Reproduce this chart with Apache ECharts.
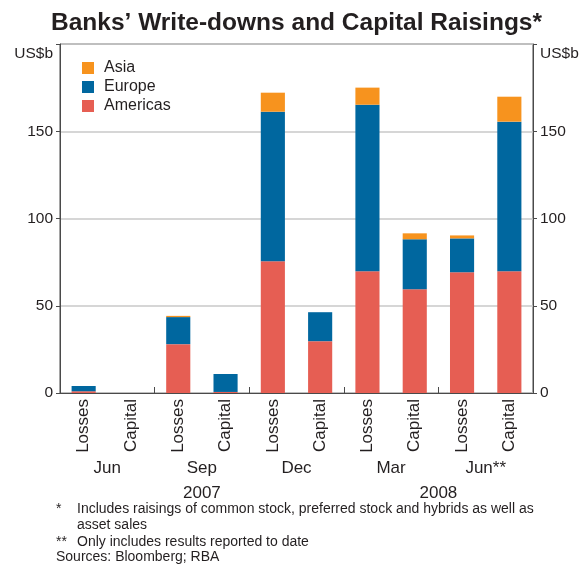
<!DOCTYPE html>
<html>
<head>
<meta charset="utf-8">
<script src="https://cdn.jsdelivr.net/npm/echarts@6/dist/echarts.min.js"></script>
<style>
html,body{margin:0;padding:0;background:#fff;}
#main{width:584px;height:565px;}
</style>
</head>
<body>
<div id="main"></div>
<script>
const categories = ['Losses','Capital','Losses','Capital','Losses','Capital','Losses','Capital','Losses','Capital'];
const months = ['Jun','Sep','Dec','Mar','Jun**'];
const yearLabels = {3: '2007', 8: '2008'};
const americas = [1, 0, 28, 0.6, 75.5, 29.7, 69.8, 59.5, 69.2, 69.8];
const europe = [3, 0, 15.5, 10.3, 85.7, 16.6, 95.4, 28.6, 19.4, 85.7];
const asia = [0, 0, 0.7, 0, 10.9, 0, 9.8, 3.4, 1.7, 14.3];
const yMin = 0, yMax = 200, yStep = 50;
const unitLabel = 'US$b';
const footnotes = [
  ['*', 'Includes raisings of common stock, preferred stock and hybrids as well as'],
  ['', 'asset sales'],
  ['**', 'Only includes results reported to date']
];
const sources = 'Sources: Bloomberg; RBA';

const FONT = '"Liberation Sans", Arial, sans-serif';
const TXT = '#231f20';
const AX = '#4a4a4a';
const colors = {Asia: '#F7931E', Europe: '#00679F', Americas: '#E65E53'};

const chart = echarts.init(document.getElementById('main'), null, {renderer: 'canvas'});

function yLabel(v) {
  if (v === yMax) return '{u|' + unitLabel + '}';
  return String(v);
}
const yAxisCommon = {
  type: 'value', min: yMin, max: yMax, interval: yStep,
  axisLine: {show: true, lineStyle: {color: AX, width: 1}},
  axisTick: {show: true, inside: false, length: 4, lineStyle: {color: AX}},
  splitLine: {show: false},
  axisLabel: {
    fontFamily: FONT, fontSize: 15.5, color: TXT, margin: 7,
    formatter: yLabel,
    rich: {u: {fontFamily: FONT, fontSize: 15.5, color: TXT, padding: [19, 0, 0, 0]}}
  }
};

const footGraphics = [];
const lineY = [510, 526.5, 543];
footnotes.forEach((f, i) => {
  if (f[0]) footGraphics.push({type: 'text', left: 56, top: lineY[i] - 8, style: {text: f[0], font: '14px ' + FONT, fill: TXT}});
  footGraphics.push({type: 'text', left: 77, top: lineY[i] - 8, style: {text: f[1], font: '14px ' + FONT, fill: TXT}});
});
footGraphics.push({type: 'text', left: 56, top: 558.5 - 8, style: {text: sources, font: '14px ' + FONT, fill: TXT}});

const option = {
  backgroundColor: '#fff',
  animation: false,
  title: {
    text: 'Banks’ Write-downs and Capital Raisings*',
    left: 51, top: 11, padding: 0,
    textStyle: {fontFamily: FONT, fontSize: 24.5, fontWeight: 'bold', color: TXT}
  },
  legend: {
    orient: 'vertical', left: 82, top: 60, padding: 0,
    itemWidth: 12, itemHeight: 12, itemGap: 3,
    icon: 'rect',
    data: ['Asia', 'Europe', 'Americas'],
    textStyle: {fontFamily: FONT, fontSize: 16, color: TXT, padding: [0, 0, 0, 5]}
  },
  grid: {left: 60, right: 51, top: 44, bottom: 172, show: true, borderColor: AX, borderWidth: 1, containLabel: false},
  xAxis: [
    {
      type: 'category', data: categories, position: 'bottom', boundaryGap: true,
      axisLine: {show: true, lineStyle: {color: AX, width: 1}},
      axisTick: {show: true, inside: true, length: 6, interval: (i) => i % 2 === 0, lineStyle: {color: AX}},
      axisLabel: {interval: 0, rotate: 90, fontFamily: FONT, fontSize: 17, color: TXT, margin: 6}
    },
    {
      type: 'category', data: months, position: 'bottom', boundaryGap: true,
      axisLine: {show: false}, axisTick: {show: false},
      axisLabel: {interval: 0, fontFamily: FONT, fontSize: 17, color: TXT, margin: 67}
    },
    {
      type: 'value', min: 0, max: categories.length, interval: 1, position: 'bottom',
      axisLine: {show: false}, axisTick: {show: false}, splitLine: {show: false},
      axisLabel: {fontFamily: FONT, fontSize: 17, color: TXT, margin: 92, showMinLabel: true, showMaxLabel: true,
        formatter: (v) => yearLabels[v] || ''}
    }
  ],
  yAxis: [
    Object.assign({}, yAxisCommon, {position: 'left',
      splitLine: {show: true, lineStyle: {color: '#c9c9c9', width: 1.5}}}),
    Object.assign({}, yAxisCommon, {position: 'right'})
  ],
  series: [
    {name: 'Americas', type: 'bar', stack: 'total', data: americas, barWidth: '51%', itemStyle: {color: colors.Americas}, xAxisIndex: 0, yAxisIndex: 0},
    {name: 'Europe', type: 'bar', stack: 'total', data: europe, barWidth: '51%', itemStyle: {color: colors.Europe}, xAxisIndex: 0, yAxisIndex: 0},
    {name: 'Asia', type: 'bar', stack: 'total', data: asia, barWidth: '51%', itemStyle: {color: colors.Asia}, xAxisIndex: 0, yAxisIndex: 0}
  ],
  graphic: footGraphics
};
chart.setOption(option);
</script>
</body>
</html>
